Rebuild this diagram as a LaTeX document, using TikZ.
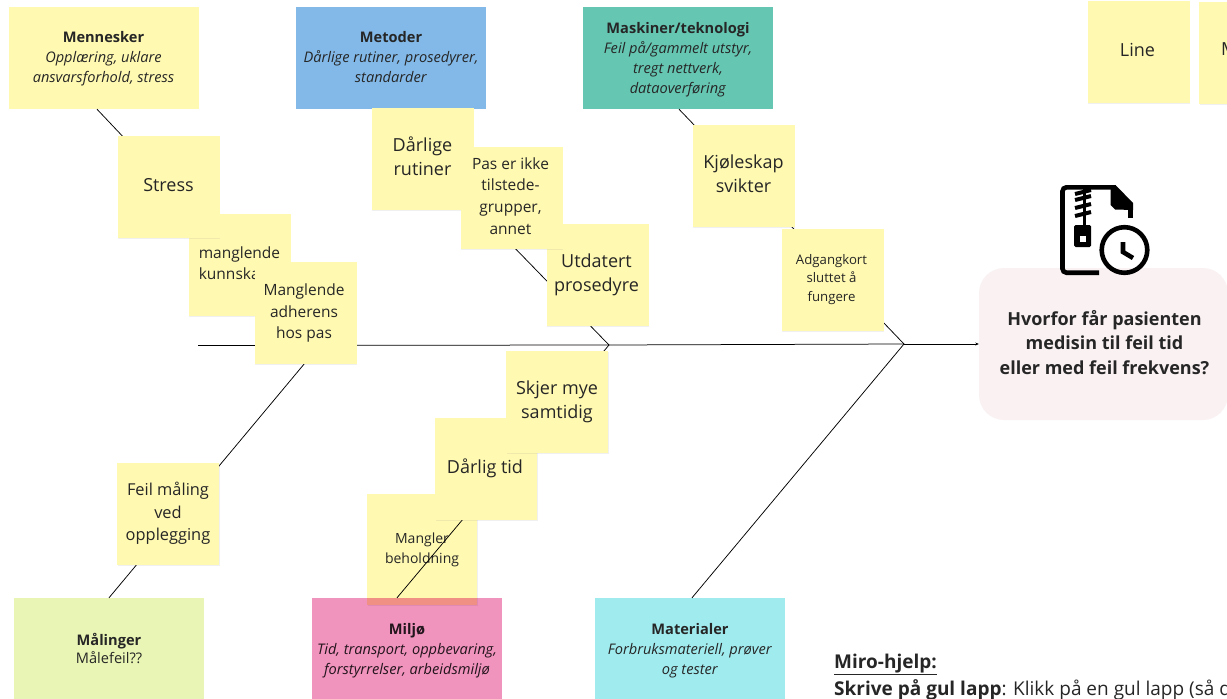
\documentclass[tikz,border=0pt]{standalone}
\usepackage{fontspec}
\setmainfont{Open Sans}
\usetikzlibrary{shadows,arrows.meta}
\definecolor{notecolor}{HTML}{FFF9B1}
\definecolor{metodercolor}{HTML}{82B9E8}
\definecolor{maskinercolor}{HTML}{65C6B2}
\definecolor{malingercolor}{HTML}{E8F5B4}
\definecolor{miljocolor}{HTML}{F093BD}
\definecolor{materialercolor}{HTML}{A0EBEE}
\definecolor{problemcolor}{HTML}{F9F1F2}
\definecolor{inkcolor}{HTML}{262626}
\tikzstyle{sticky note}=[fill=notecolor,minimum width=102pt,minimum height=102pt,
    inner sep=0pt,
    drop shadow={shadow xshift=0.8pt,shadow yshift=-1.2pt,opacity=0.12}]
\tikzstyle{note text}=[inner sep=0pt,align=center,text=inkcolor]
\tikzstyle{large text}=[note text,font=\fontsize{18}{24}\selectfont]
\tikzstyle{medium text}=[note text,font=\fontsize{15.5}{21.7}\selectfont]
\tikzstyle{small text}=[note text,font=\fontsize{13.2}{18.5}\selectfont]
\tikzstyle{cause box}=[minimum width=190pt,minimum height=102pt,inner sep=0pt]
\tikzstyle{cause text}=[note text,font=\fontsize{14.6}{20}\selectfont]
\tikzstyle{bone}=[black,line width=0.75pt]
\tikzstyle{icon line}=[black,line width=4.6pt]
\newcommand{\sticky}[4][large text]{
    \node[sticky note] at (#2) (#3) {};
    \node[#1] at (#3) (#3 text) {#4};
}
\newcommand{\causebox}[5][]{
    \node[cause box,fill=#2] at (#3) (#4) {};
    \node[cause text,#1] at (#4) (#4 text) {#5};
}
\begin{document}
\begin{tikzpicture}[x=1pt,y=-1pt]
    \path[use as bounding box,clip] (0,0) rectangle (1227,699);
    %
    \causebox[yshift=-1.2pt]{notecolor}{103.5,58}{mennesker}{\textbf{Mennesker}\\\textit{Opplæring, uklare}\\\textit{ansvarsforhold, stress}}
    \causebox[yshift=1pt]{metodercolor}{391,58}{metoder}{\textbf{Metoder}\\\textit{Dårlige rutiner, prosedyrer,}\\\textit{standarder}}
    \causebox[yshift=-1.5pt]{maskinercolor}{678,58}{maskiner}{\textbf{Maskiner/teknologi}\\\textit{Feil på/gammelt utstyr,}\\\textit{tregt nettverk,}\\\textit{dataoverføring}}
    \causebox[font=\fontsize{14.6}{18.5}\selectfont,yshift=0.5pt]{malingercolor}{109,649}{malinger}{\textbf{Målinger}\\Målefeil??}
    \causebox[yshift=-1.5pt]{materialercolor}{690,649}{materialer}{\textbf{Materialer}\\\textit{Forbruksmateriell, prøver}\\\textit{og tester}}
    %
    \node[sticky note,minimum width=110pt,minimum height=111pt] at (422,549.5) (mangler) {};
    \node[note text,font=\fontsize{14}{20}\selectfont] at (mangler) (mangler text) {Mangler\\beholdning};
    \begin{scope}[blend mode=multiply]
        \causebox[yshift=-1.5pt]{miljocolor}{407,649}{miljo}{\textbf{Miljø}\\\textit{Tid, transport, oppbevaring,}\\\textit{forstyrrelser, arbeidsmiljø}}
    \end{scope}
    %
    \coordinate (jointleft) at (320,345);
    \coordinate (jointmid) at (609,345);
    \coordinate (jointright) at (904,344);
    \coordinate (spinestart) at (198,345.5);
    %
    \node[fill=problemcolor,rounded corners=25pt,minimum width=249pt,minimum height=152pt,
        inner sep=0pt] at (1103.5,344) (problem) {};
    \node[note text,font=\fontsize{18}{24.5}\selectfont\bfseries,xshift=1pt,yshift=1.5pt]
        at (problem) (problem text) {Hvorfor får pasienten\\medisin til feil tid\\eller med feil frekvens?};
    %
    \draw[bone] (spinestart) -- (jointmid) -- (jointright);
    \draw[bone,-{Stealth[length=3.5pt,width=3pt]}] (jointright) -- (problem.west);
    \draw[bone] ([xshift=-6.5pt]mennesker.south) -- (jointleft);
    \draw[bone] (malinger.north) -- (jointleft);
    \draw[bone] ([xshift=-11pt]metoder.south) -- (jointmid);
    \draw[bone] ([xshift=-10pt]miljo.north) -- (jointmid);
    \draw[bone] ([xshift=1pt]maskiner.south) -- (jointright);
    \draw[bone] ([xshift=2pt]materialer.north) -- (jointright);
    %
    \sticky[medium text,align=left]{239.5,265}{kunnskap}{manglende\\kunnskap}
    \sticky[large text,yshift=1pt]{168.5,186.5}{stress}{Stress}
    \sticky[medium text,xshift=-1.5pt]{305.5,313}{adherens}{Manglende\\adherens\\hos pas}
    %
    \sticky[large text,yshift=2.5pt]{422.5,159}{rutiner}{Dårlige\\rutiner}
    \sticky[large text,xshift=-1pt]{597.5,275}{prosedyre}{Utdatert\\prosedyre}
    \sticky[medium text,xshift=-1pt,yshift=2pt]{511.5,198}{tilstede}{Pas er ikke\\tilstede-\\grupper,\\annet}
    %
    \sticky[large text,yshift=2pt]{743.5,175.5}{kjoleskap}{Kjøleskap\\svikter}
    \sticky[small text,xshift=-1pt]{832.5,279.5}{adgangkort}{Adgangkort\\sluttet å\\fungere}
    %
    \sticky[large text,xshift=-1pt]{486,468.5}{darligtid}{Dårlig tid}
    \sticky{557,401.5}{samtidig}{Skjer mye\\samtidig}
    %
    \sticky[note text,font=\fontsize{16.4}{22.6}\selectfont]{168,513.5}{feilmaling}{Feil måling\\ved\\opplegging}
    %
    \sticky[large text,xshift=-1pt,yshift=2pt]{1138.5,52}{line}{Line}
    \node[sticky note] at (1250,52.5) (nestelapp) {};
    \node[large text,anchor=west] at (1221,49) (nestelapp text) {M};
    %
    \node[anchor=base west,inner sep=0pt,text=inkcolor,font=\fontsize{19}{24}\selectfont\bfseries] at (834,668) (hjelp) {\underline{Miro-hjelp:}};
    \node[anchor=base west,inner sep=0pt,text=inkcolor,font=\fontsize{19}{24}\selectfont] at (834,695) (skrive) {\textbf{Skrive på gul lapp}: Klikk på en gul lapp (så d};
    %
    \draw[icon line,rounded corners=4pt] (1099,272.7) -- (1062.5,272.7) -- (1062.5,187.3) -- (1115,187.3);
    \draw[icon line] (1130.5,218) -- (1130.5,205);
    \fill[black] (1110.7,187) -- (1115.5,185) -- (1133,203) -- (1133,210) -- (1115,209.5) -- (1110.7,205) -- cycle;
    \draw[black,line width=3pt] (1084,189) -- (1084,226);
    \foreach \toothy in {198,206,214}{
        \draw[black,line width=4pt] (1075,\toothy+2) -- (1091,\toothy-2);
    }
    \draw[black,line width=4pt] (1075,194) -- (1091,190);
    \fill[black,rounded corners=1.5pt] (1074,225) rectangle (1091,247);
    \fill[white] (1080,235.5) rectangle (1086,241.5);
    \draw[icon line] (1124.5,250) circle (22.8);
    \draw[icon line] (1123,242) -- (1123,252) -- (1133,258);
\end{tikzpicture}
\end{document}
